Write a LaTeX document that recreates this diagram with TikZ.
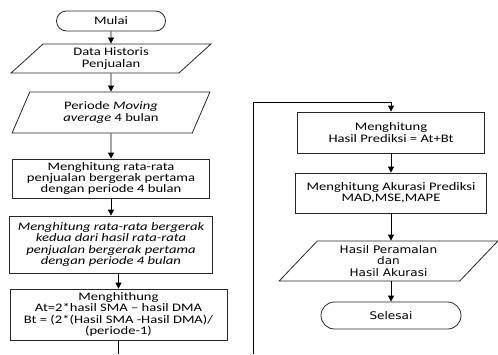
\documentclass[tikz,border=0pt]{standalone}
\usepackage{fontspec}
\setmainfont{Carlito}[FakeStretch=1.27]
\newfontfamily\dvsans{DejaVu Sans}[FakeStretch=1.15]
\usetikzlibrary{arrows.meta,shapes.geometric,shapes.misc}

\begin{document}
\begin{tikzpicture}[x=1pt,y=-1pt,
  terminal/.style={rounded rectangle, draw=black!85, line width=0.8pt,
                   inner sep=0pt, font=\fontsize{11.5}{11.3}\selectfont},
  iobox/.style={trapezium, trapezium stretches=true, draw=black!85,
                line width=0.8pt, inner sep=0pt, align=center,
                font=\fontsize{11.5}{11.3}\selectfont},
  procbox/.style={rectangle, draw=black!85, line width=0.8pt,
                  inner sep=0pt, align=center,
                  font=\fontsize{11.5}{11.3}\selectfont},
  arrow/.style={-{Triangle[length=6pt,width=6pt]}, black, line width=0.8pt}
]
\useasboundingbox (0,0) rectangle (498,354);

% Column x-positions
\def\xL{111}
\def\xR{391}

% Left column
\node[terminal, minimum width=109pt, minimum height=20pt] (mulai) at (\xL,21) {Mulai};
\node[iobox, trapezium left angle=50, trapezium right angle=130,
      minimum width=200pt, minimum height=29pt] (data) at (\xL,58.5)
      {Data Historis\\Penjualan};
\node[iobox, trapezium left angle=64, trapezium right angle=116,
      minimum width=198pt, minimum height=41pt] (periode) at (\xL,112.5)
      {Periode \textit{Moving}\\\textit{average} 4 bulan};
\node[procbox, minimum width=197pt, minimum height=39pt] (smaA) at (\xL,178.5)
      {Menghitung rata-rata\\penjualan bergerak pertama\\dengan periode 4 bulan};
\node[procbox, minimum width=203pt, minimum height=57pt, font=\fontsize{11.5}{11.3}\selectfont\itshape]
      (smaB) at (\xL,244.5)
      {Menghitung rata-rata bergerak\\kedua dari hasil rata-rata\\penjualan bergerak pertama\\dengan periode 4 bulan};
\node[procbox, minimum width=217pt, minimum height=51pt] (koef) at (118.5,314.5)
      {Menghithung\\At=2*hasil SMA \textendash{} hasil DMA\\Bt = (2*(Hasil SMA -Hasil DMA)/\\(periode-1)};

% Right column
\node[procbox, minimum width=187pt, minimum height=41pt] (prediksi) at (\xR,132.5)
      {Menghitung\\Hasil Prediksi = At+Bt};
\node[procbox, minimum width=191pt, minimum height=40pt] (akurasi) at (\xR,193)
      {Menghitung Akurasi Prediksi\\MAD,MSE,MAPE};
\node[iobox, trapezium left angle=50, trapezium right angle=130,
      minimum width=219pt, minimum height=40pt, font=\dvsans\fontsize{10.5}{11.5}\selectfont]
      (hasil) at (388.5,261)
      {Hasil Peramalan\\dan\\Hasil Akurasi};
\node[terminal, minimum width=140pt, minimum height=27pt, font=\dvsans\fontsize{10.5}{11.5}\selectfont]
      (selesai) at (\xR,315.5) {Selesai};

% Off-page connector
\coordinate (cutL) at (118.5,354);
\coordinate (cutR) at (253,354);
\coordinate (turn) at (253,102);

% Connections
\draw[arrow] (mulai) -- (data);
\draw[arrow] (data) -- (periode);
\draw[arrow] (periode) -- (smaA);
\draw[arrow] (smaA) -- (smaB);
\draw[arrow] (smaB.south -| koef) -- (koef.north);
\draw[line width=0.8pt] (koef.south) -- (cutL);
\draw[arrow] (cutR) -- (turn) -| (prediksi.north);
\draw[arrow] (prediksi) -- (akurasi);
\draw[arrow] (akurasi.south) -- (akurasi.south |- hasil.north);
\draw[arrow] (hasil.south -| selesai) -- (selesai.north);

\end{tikzpicture}
\end{document}
